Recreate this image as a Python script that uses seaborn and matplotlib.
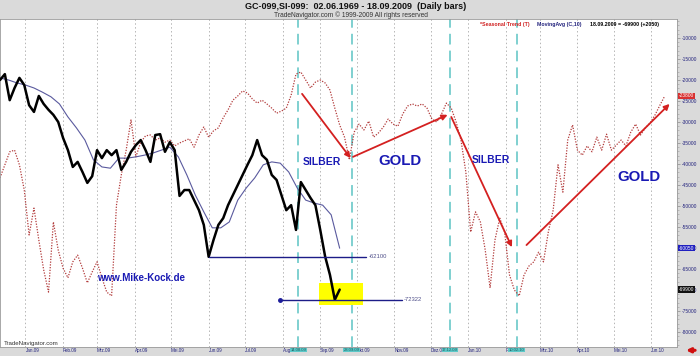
import pandas as pd
import numpy as np
import matplotlib.pyplot as plt
import matplotlib.dates as mdates
import matplotlib.transforms as mtransforms
from matplotlib.ticker import MultipleLocator, FormatStrFormatter
import seaborn as sns

# Seasonal trend GC-SI (red dotted), one value every 4 days from 11.12.2008
seasonal = [
    -43300, -40200, -37100, -36700, -40200, -46200, -56900, -50500, -58100, -65200,
    -70500, -53800, -60500, -64800, -67100, -63300, -61700, -64800, -68300, -65700,
    -63300, -67100, -70500, -71400, -49800, -42600, -36700, -29500, -38300, -34800,
    -33300, -33100, -34300, -33800, -34800, -34300, -35700, -35000, -34500, -34000,
    -36000, -33100, -31200, -33600, -32100, -31400, -29000, -27100, -24800, -23800,
    -22600, -23100, -24500, -25500, -24800, -25700, -26700, -27900, -27400, -26700,
    -23600, -18600, -18100, -20000, -21900, -20500, -20000, -20700, -22400, -26700,
    -30700, -33600, -39000, -32400, -30500, -31900, -29800, -33600, -32600, -31200,
    -29300, -30500, -31000, -28100, -26200, -25700, -26200, -25700, -26700, -29300,
    -30000, -28100, -25500, -26700, -30000, -34300, -41900, -56200, -51400, -53800,
    -60500, -69500, -58100, -52900, -56200, -66400, -70000, -71400, -66400, -64300,
    -63300, -61000, -63300, -56200, -51000, -40200, -46700, -34300, -30700, -36700,
    -37900, -35700, -37100, -33600, -36700, -32900, -36700, -35500, -34300, -35700,
    -32400, -30500, -33100, -31400, -30200, -28300, -26000, -23800,
]

# GC-099 / SI-099 spread (black), one value every 4 days from 11.12.2008
spread = [
    -20000, -18600, -24800, -21900, -19500, -21200, -26000, -27600, -23800, -25700,
    -27100, -28300, -30000, -33800, -36700, -40700, -39500, -41900, -44500, -42900,
    -36700, -38600, -36700, -37900, -36700, -41400, -39500, -37100, -35500, -34300,
    -36700, -39500, -33100, -32900, -37100, -34800, -36700, -47600, -46200, -46200,
    -48600, -51000, -54500, -62100, -58100, -54500, -52900, -49800, -47400, -45000,
    -42600, -40200, -37900, -34300, -37900, -39000, -42600, -43800, -47400, -51000,
    -49800, -55700, -44300, -46200, -48100, -49800, -55700, -62000, -66400, -72322,
    -69900,
]

# MovingAvg (C,10), weekly values from 11.12.2008
mov_avg = [
    -19500, -20000, -20700, -21200, -21900, -22900, -24000, -25700, -28800, -31400,
    -34300, -39000, -40700, -41000, -38600, -38600, -38300, -37900, -37400, -36700,
    -36000, -38300, -42600, -47400, -51400, -55200, -55200, -53800, -48600, -45700,
    -43300, -40200, -39500, -39800, -41900, -45700, -48600, -49300, -49800, -52100,
    -60050,
]

month_labels = ["Jan.09", "Feb.09", "Mrz.09", "Apr.09", "Mai.09", "Jun.09", "Jul.09",
                "Aug.09", "Sep.09", "Okt.09", "Nov.09", "Dez.09", "Jan.10", "Feb.10",
                "Mrz.10", "Apr.10", "Mai.10", "Jun.10"]

cycle_dates = ["2009-08-14", "2009-09-27", "2009-12-17", "2010-02-10"]
cycle_labels = ["14.08.09", "28.09.09", "17.12.09", "10.02.10"]

# trend arrows: start / end
arrow_from_dates = ["2009-08-17", "2009-09-28", "2009-12-18", "2010-02-18"]
arrow_from_vals = [-23300, -38300, -28800, -59300]
arrow_to_dates = ["2009-09-26", "2009-12-15", "2010-02-06", "2010-06-16"]
arrow_to_vals = [-38600, -28300, -59800, -25700]

phase_names = ["SILBER", "GOLD", "SILBER", "GOLD"]
phase_dates = ["2009-09-02", "2009-11-06", "2010-01-20", "2010-05-22"]
phase_vals = [-39500, -39300, -39000, -43100]
phase_sizes = [7.5, 10.8, 7.5, 10.8]

support_vals = [-62100, -72322]
support_from = ["2009-06-01", "2009-07-30"]
support_to = ["2009-10-09", "2009-11-07"]

box_dates = ["2009-08-31", "2009-10-06"]
box_vals = [-73600, -68300]

start = "2008-12-11"
seasonal_dates = pd.date_range(start, periods=len(seasonal), freq="4D")
spread_dates = pd.date_range(start, periods=len(spread), freq="4D")
ma_dates = pd.date_range(start, periods=len(mov_avg), freq="7D")
month_starts = pd.date_range("2009-01-01", periods=len(month_labels), freq="MS")

sns.set_theme(style="white")
plt.rcParams["font.family"] = ["Liberation Sans", "DejaVu Sans"]
plt.rcParams["axes.unicode_minus"] = False

navy = "#24247e"
fig = plt.figure(figsize=(7, 3.56), dpi=100, facecolor="#dadada")
ax = fig.add_axes([0, 0.0253, 0.967, 0.9213])
ax.set_facecolor("white")

# month grid and cycle markers
for d in month_starts:
    ax.axvline(d, color="#b5b5b5", ls=(0, (1.5, 2.5)), lw=0.7, zorder=0)
for d in cycle_dates:
    ax.axvline(pd.Timestamp(d), color="#5cc4c4", ls=(0, (7, 4)), lw=1.1, zorder=1)

# yellow target box
ax.fill_between(pd.to_datetime(box_dates), box_vals[0], box_vals[1],
                color="#ffff00", lw=0, zorder=1)

sns.lineplot(x=seasonal_dates, y=seasonal, ax=ax, color="#b23b3b",
             lw=0.9, ls=(0, (1, 1.2)), zorder=2)
sns.lineplot(x=ma_dates, y=mov_avg, ax=ax, color="#5a5a9e", lw=0.8, zorder=3)
sns.lineplot(x=spread_dates, y=spread, ax=ax, color="black", lw=1.8, zorder=4)

# support levels
for v, a, b in zip(support_vals, support_from, support_to):
    ax.plot(pd.to_datetime([a, b]), [v, v], color="#1c1c88", lw=1.0, zorder=5)
    ax.text(pd.Timestamp(b) + pd.Timedelta(days=2), v, f"{v}", fontsize=4.2,
            color="#50508a", va="center", ha="left")
ax.plot(pd.Timestamp(support_from[1]), support_vals[1], "o", ms=2.5,
        color="#1c1c9a", zorder=5)

# trend arrows
for fd, fv, td, tv in zip(arrow_from_dates, arrow_from_vals, arrow_to_dates, arrow_to_vals):
    ax.annotate("", xy=(mdates.date2num(pd.Timestamp(td)), tv),
                xytext=(mdates.date2num(pd.Timestamp(fd)), fv),
                arrowprops=dict(arrowstyle="-|>", color="#d42020", lw=1.3,
                                mutation_scale=8, shrinkA=0, shrinkB=0), zorder=6)

for name, d, v, s in zip(phase_names, phase_dates, phase_vals, phase_sizes):
    ax.text(pd.Timestamp(d), v, name, fontsize=s, weight="bold", color="#1a1ab4",
            ha="center", va="center", zorder=7)

ax.text(pd.Timestamp("2009-04-06"), -67100, "www.Mike-Kock.de", fontsize=7,
        weight="bold", color="#1a1ab4", ha="center", va="center")

ax.set_xlim(pd.Timestamp(start), pd.Timestamp("2010-06-22"))
ax.set_ylim(-83570, -5480)

# right value axis
ax.yaxis.tick_right()
ax.set_yticks(np.arange(-80000, -9999, 5000))
ax.yaxis.set_major_formatter(FormatStrFormatter("%d"))
ax.yaxis.set_minor_locator(MultipleLocator(1000))
ax.tick_params(axis="y", which="major", right=True, length=2.5, width=0.5, color="#8a8a8a",
               labelsize=3.5, labelcolor=navy, pad=1.2)
ax.tick_params(axis="y", which="minor", right=True, length=1.3, width=0.4, color="#9a9a9a")

ax.set_xticks(month_starts)
ax.set_xticklabels(month_labels, ha="left")
ax.tick_params(axis="x", length=0, labelsize=3.3, labelcolor=navy, pad=1.0)
ax.grid(False)
for sp in ax.spines.values():
    sp.set_color("#9a9a9a")
    sp.set_linewidth(0.6)

# last-value boxes on the scale
ytrans = mtransforms.blended_transform_factory(ax.transAxes, ax.transData)
for val, bg in [(seasonal[-1], "#d83030"), (mov_avg[-1], "#2020c0"), (spread[-1], "#111111")]:
    ax.text(1.003, val, f"{val}", transform=ytrans, fontsize=3.5, color="white",
            ha="left", va="center", clip_on=False, zorder=10,
            bbox=dict(boxstyle="square,pad=0.15", fc=bg, ec="none"))

# cycle date boxes under the axis
xtrans = mtransforms.blended_transform_factory(ax.transData, ax.transAxes)
for d, lab in zip(cycle_dates, cycle_labels):
    ax.text(pd.Timestamp(d), -0.009, lab, transform=xtrans, fontsize=3.0,
            color="#1d5f5f", ha="center", va="center", clip_on=False, zorder=10,
            bbox=dict(boxstyle="square,pad=0.1", fc="#5cc8c8", ec="none"))

# legend line
ax.text(0.709, 0.99, "*Seasonal Trend (T)", transform=ax.transAxes, fontsize=3.8,
        color="#d02020", weight="bold", va="top")
ax.text(0.793, 0.99, "MovingAvg (C,10)", transform=ax.transAxes, fontsize=3.8,
        color=navy, weight="bold", va="top")
ax.text(0.871, 0.99, f"18.09.2009 = {spread[-1]} (+2050)", transform=ax.transAxes,
        fontsize=3.8, color="black", weight="bold", va="top")
ax.text(0.005, 0.004, "TradeNavigator.com", transform=ax.transAxes, fontsize=4.4,
        color="#333333", va="bottom")

# header
fig.text(0.508, 0.983, "GC-099,SI-099:  02.06.1969 - 18.09.2009  (Daily bars)",
         ha="center", va="center", fontsize=6.5, weight="bold", color="#111111")
fig.text(0.502, 0.958, "TradeNavigator.com \u00a9 1999-2009 All rights reserved",
         ha="center", va="center", fontsize=4.8, color="#333333")
ax.annotate("", xy=(0.976, 0.016), xytext=(0.997, 0.016), xycoords="figure fraction",
            arrowprops=dict(arrowstyle="-|>", color="#d01010", lw=2.2, mutation_scale=6))

fig.savefig("out.png", dpi=100, facecolor=fig.get_facecolor())
